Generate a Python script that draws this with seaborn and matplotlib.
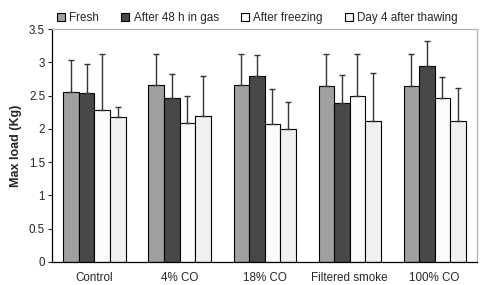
import numpy as np
import pandas as pd
import matplotlib
matplotlib.use("Agg")
import matplotlib.pyplot as plt
import seaborn as sns

# data
groups = ["Control", "4% CO", "18% CO", "Filtered smoke", "100% CO"]
series = ["Fresh", "After 48 h in gas", "After freezing", "Day 4 after thawing"]
fresh = [2.56, 2.66, 2.66, 2.65, 2.65]
after_gas = [2.54, 2.46, 2.80, 2.39, 2.94]
after_freezing = [2.28, 2.09, 2.07, 2.50, 2.47]
day4 = [2.18, 2.19, 2.00, 2.12, 2.12]
# upper end of error bars
fresh_hi = [3.03, 3.13, 3.13, 3.13, 3.13]
gas_hi = [2.98, 2.82, 3.11, 2.81, 3.32]
freezing_hi = [3.12, 2.49, 2.60, 3.12, 2.78]
day4_hi = [2.33, 2.79, 2.41, 2.84, 2.61]

colors = ["#a0a0a0", "#484848", "#fbfbfb", "#f0f0f0"]

values = [fresh, after_gas, after_freezing, day4]
highs = [fresh_hi, gas_hi, freezing_hi, day4_hi]
df = pd.DataFrame({
    "group": groups * len(series),
    "series": np.repeat(series, len(groups)),
    "load": np.concatenate(values),
})

sns.set_style("white")
plt.rcParams["font.family"] = ["Liberation Sans", "DejaVu Sans"]

fig = plt.figure(figsize=(4.81, 2.85), dpi=100)
ax = fig.add_axes([0.108, 0.081, 0.884, 0.817])

sns.barplot(data=df, x="group", y="load", hue="series", order=groups,
            hue_order=series, palette=colors, width=0.73, gap=0,
            edgecolor="black", linewidth=0.8, errorbar=None, ax=ax,
            legend=True)

# one-sided error bars on top of each bar
for cont, hi in zip(ax.containers, highs):
    xs = [b.get_x() + b.get_width() / 2 for b in cont]
    tops = [b.get_height() for b in cont]
    err = np.array(hi) - np.array(tops)
    ax.errorbar(xs, tops, yerr=[np.zeros_like(err), err], fmt="none",
                ecolor="#333333", elinewidth=1.0, capsize=2.2, capthick=1.0,
                zorder=1)

ax.set_ylim(0, 3.5)
ax.set_xlim(-0.5, 4.5)
ax.set_yticks(np.arange(0, 3.51, 0.5))
ax.set_yticklabels(["%g" % v for v in np.arange(0, 3.51, 0.5)], fontsize=8.4)
ax.set_xticks(range(len(groups)))
ax.set_xticklabels(groups, fontsize=8.4)
ax.set_xticks(np.arange(-0.5, 4.6, 1), minor=True)
ax.tick_params(axis="x", which="major", length=0, pad=7)
ax.tick_params(axis="x", which="minor", length=3, width=0.8, direction="out")
ax.tick_params(axis="y", length=3, width=0.8, direction="out", left=True, pad=2)
ax.set_xlabel("")
ax.set_ylabel("Max load (Kg)", fontsize=9, fontweight="bold", labelpad=5)

for s in ["left", "bottom"]:
    ax.spines[s].set_color("black")
    ax.spines[s].set_linewidth(0.9)
for s in ["top", "right"]:
    ax.spines[s].set_color("#b0b0b0")
    ax.spines[s].set_linewidth(0.9)

handles, labels = ax.get_legend_handles_labels()
ax.get_legend().remove()
fig.legend(handles, labels, loc="center", bbox_to_anchor=(0.535, 0.937),
           ncol=4, frameon=False, fontsize=8.4, handlelength=0.7,
           handleheight=0.7, handletextpad=0.35, columnspacing=1.9)

fig.savefig("out.png", dpi=100)
